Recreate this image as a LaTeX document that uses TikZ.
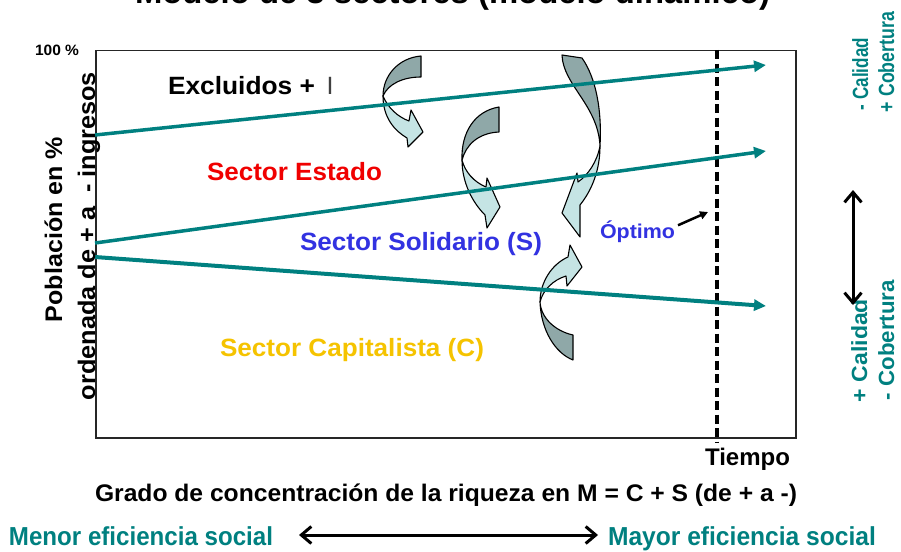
\documentclass[tikz,border=0pt]{standalone}
\usepackage{fontspec}
\setmainfont{Liberation Sans}
\usepackage{graphicx}
\usetikzlibrary{arrows.meta}
\definecolor{tealc}{RGB}{0,128,128}
\definecolor{arrdark}{RGB}{143,168,168}
\definecolor{arrlight}{RGB}{197,228,228}
\definecolor{estred}{RGB}{240,0,0}
\definecolor{solblue}{RGB}{50,50,225}
\definecolor{capgold}{RGB}{245,195,0}
\newsavebox\fitbox
\newcommand\fitw[2]{\sbox\fitbox{#2}\pgfmathsetmacro\fitsx{#1/\the\wd\fitbox}\scalebox{\fitsx}[1]{\usebox\fitbox}}
\newcommand\fs[1]{\fontsize{#1}{#1}\selectfont}
\begin{document}
\begin{tikzpicture}[x=1pt,y=-1pt,
  lbl/.style={inner sep=0pt, outer sep=0pt, font=\bfseries},
  backface/.style={fill=arrdark, draw=black, line width=1.1pt, line join=round},
  frontface/.style={fill=arrlight, draw=black, line width=1.1pt, line join=round},
  trend/.style={draw=tealc, line width=3.5pt, -{Triangle[length=12pt,width=11pt]}},
  barb/.style={line width=3pt, {Straight Barb[length=10pt,width=17pt]}-{Straight Barb[length=10pt,width=17pt]}}]
\useasboundingbox (0,0) rectangle (901,551);
% title (cut off by the page edge, as in the reference)
\begin{scope}
\clip (0,0) rectangle (901,551);
\node[lbl, anchor=base west] (title) at (135,4) {\fs{33}\fitw{635}{Modelo de 3 sectores (modelo dinámico)}};
\end{scope}
% frame
\node[draw=black!85, line width=1.5pt, inner sep=0pt, minimum width=700pt, minimum height=387pt, anchor=north west] (frame) at (95,50) {};
% curved arrows
\draw[backface] (421,56) .. controls (398,58) and (383,76) .. (383,96) .. controls (388,84) and (403,77) .. (421,77) -- cycle;
\draw[frontface] (383,96) .. controls (383,118) and (395,131) .. (407,138) -- (408,147) -- (423,132) -- (411,110) -- (409,121) .. controls (398,117) and (388,108) .. (383,96) -- cycle;
\draw[backface] (499,107) .. controls (475,111) and (461,132) .. (462,160) .. controls (466,145) and (478,133) .. (499,132) -- cycle;
\draw[frontface] (462,160) .. controls (462,182) and (472,202) .. (485,215) -- (487,228) -- (500,207) -- (487,178) -- (486,187) .. controls (474,182) and (465,172) .. (462,160) -- cycle;
\draw[backface] (562,55) .. controls (563,85) and (598,105) .. (600,146) .. controls (602,110) and (596,78) .. (582,58) -- cycle;
\draw[frontface] (600,146) .. controls (600,170) and (592,190) .. (580,205) -- (580,237) -- (562,213) -- (577,173) -- (578,182) .. controls (588,175) and (597,162) .. (600,146) -- cycle;
\draw[backface] (573,335) .. controls (555,331) and (541,318) .. (540,302) .. controls (541,330) and (555,353) .. (573,360) -- cycle;
\draw[frontface] (540,302) .. controls (540,282) and (552,264) .. (568,257) -- (570,245) -- (582,267) -- (567,286) -- (566,276) .. controls (553,280) and (543,290) .. (540,302) -- cycle;
% optimum (time) line
\coordinate (optTop) at (717,50);
\coordinate (optBot) at (717,442);
\draw[line width=4pt, dash pattern=on 9pt off 4.5pt] (optTop) -- (optBot);
% trend lines
\coordinate (l1s) at (95,135); \coordinate (l1e) at (766,65);
\coordinate (l2s) at (95,243); \coordinate (l2e) at (766,151);
\coordinate (l3s) at (95,257); \coordinate (l3e) at (766,306);
\draw[trend] (l1s) -- (l1e);
\draw[trend] (l2s) -- (l2e);
\draw[trend, line width=4pt] (l3s) -- (l3e);
% labels
\node[lbl, anchor=base west] (pct) at (35,56) {\fs{15}\fitw{44}{100 \%}};
\node[lbl, rotate=90, anchor=base] (ylab1) at (62,229.5) {\fs{24}\fitw{185}{Población en \%}};
\node[lbl, rotate=90, anchor=base] (ylab2) at (95,236) {\fs{24}\fitw{328}{ordenada de + a \ - ingresos}};
\node[lbl, anchor=base west] (excl) at (168,94) {\fs{25}\fitw{147}{Excluidos +}};
\node[inner sep=0pt, anchor=base, text=black!75] (bar) at (330,94) {\fs{25}I};
\node[lbl, anchor=base west, text=estred] (estado) at (207,180) {\fs{25}\fitw{175}{Sector Estado}};
\node[lbl, anchor=base west, text=solblue] (solid) at (300,250) {\fs{25}\fitw{242}{Sector Solidario (S)}};
\node[lbl, anchor=base west, text=capgold] (capit) at (220,356) {\fs{25}\fitw{264}{Sector Capitalista (C)}};
\node[lbl, anchor=base west, text=solblue] (optimo) at (600,238) {\fs{20}\fitw{75}{Óptimo}};
\coordinate (optPtr) at (708,212);
\draw[line width=2.5pt, -{Triangle[length=8pt,width=8pt]}] (optimo.north east) ++(3,5) -- (optPtr);
\node[lbl, anchor=base east] (tiempo) at (790,465) {\fs{24}\fitw{85}{Tiempo}};
\node[lbl, anchor=base west] (grado) at (95,501) {\fs{24}\fitw{702}{Grado de concentración de la riqueza en M = C + S (de + a -)}};
\node[lbl, anchor=base west, text=tealc] (menor) at (9,545) {\fs{26}\fitw{264}{Menor eficiencia social}};
\node[lbl, anchor=base west, text=tealc] (mayor) at (608,545) {\fs{26}\fitw{268}{Mayor eficiencia social}};
\coordinate (effL) at (299,535);
\coordinate (effR) at (598,535);
\draw[barb] (effL) -- (effR);
% right side
\node[lbl, rotate=90, anchor=base west, text=tealc] (calT) at (868,110) {\fs{22}\fitw{72}{- Calidad}};
\node[lbl, rotate=90, anchor=base west, text=tealc] (cobT) at (894,112) {\fs{22}\fitw{100}{+ Cobertura}};
\node[lbl, rotate=90, anchor=base west, text=tealc] (calB) at (867,402) {\fs{22}\fitw{103}{+ Calidad}};
\node[lbl, rotate=90, anchor=base west, text=tealc] (cobB) at (894,400) {\fs{22}\fitw{120}{- Cobertura}};
\coordinate (qT) at (853,190);
\coordinate (qB) at (853,305);
\draw[barb] (qT) -- (qB);
\end{tikzpicture}
\end{document}
